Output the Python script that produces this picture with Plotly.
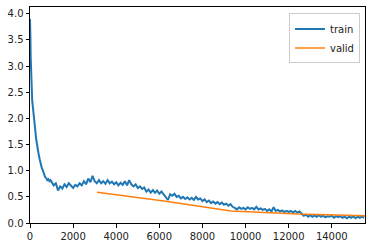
import plotly.graph_objects as go

# ---- data ----
train_iters_early = [0, 10, 20, 30, 40, 60, 80, 100, 130, 160, 200, 240, 280, 320, 360,
                     400, 450, 500, 550, 600, 650, 700, 750, 800, 850, 900, 950]
train_loss_early = [3.90, 3.82, 3.55, 3.20, 2.90, 2.80, 2.60, 2.35, 2.25, 2.10, 1.92, 1.80,
                    1.62, 1.50, 1.40, 1.32, 1.22, 1.12, 1.05, 1.00, 0.93, 0.88, 0.86, 0.82,
                    0.84, 0.80, 0.82]

train_loss_late = [
    0.78, 0.72, 0.76, 0.62, 0.70, 0.66, 0.74, 0.69, 0.76, 0.72,   # 1000-1900
    0.67, 0.73, 0.70, 0.76, 0.72, 0.80, 0.74, 0.85, 0.78, 0.90,   # 2000-2900
    0.80, 0.76, 0.82, 0.76, 0.80, 0.75, 0.82, 0.76, 0.79, 0.74,   # 3000-3900
    0.78, 0.72, 0.77, 0.73, 0.80, 0.72, 0.82, 0.74, 0.70, 0.74,   # 4000-4900
    0.67, 0.70, 0.65, 0.68, 0.60, 0.64, 0.58, 0.63, 0.58, 0.62,   # 5000-5900
    0.56, 0.60, 0.54, 0.50, 0.44, 0.55, 0.52, 0.56, 0.50, 0.52,   # 6000-6900
    0.47, 0.50, 0.46, 0.49, 0.45, 0.48, 0.44, 0.50, 0.45, 0.47,   # 7000-7900
    0.42, 0.45, 0.40, 0.43, 0.38, 0.41, 0.37, 0.40, 0.36, 0.39,   # 8000-8900
    0.35, 0.37, 0.33, 0.36, 0.31, 0.29, 0.26, 0.30, 0.27, 0.29,   # 9000-9900
    0.26, 0.30, 0.27, 0.29, 0.26, 0.31, 0.26, 0.28, 0.25, 0.27,   # 10000-10900
    0.23, 0.26, 0.22, 0.30, 0.23, 0.25, 0.22, 0.24, 0.21, 0.23,   # 11000-11900
    0.21, 0.23, 0.20, 0.23, 0.20, 0.22, 0.18, 0.14, 0.16, 0.12,   # 12000-12900
    0.15, 0.12, 0.14, 0.12, 0.15, 0.12, 0.14, 0.11, 0.13, 0.12,   # 13000-13900
    0.14, 0.10, 0.13, 0.11, 0.13, 0.10, 0.12, 0.09, 0.12, 0.10,   # 14000-14900
    0.13, 0.09, 0.12, 0.10, 0.12, 0.10,                           # 15000-15500
]
train_iters_late = list(range(1000, 1000 + 100 * len(train_loss_late), 100))

train_iters = train_iters_early + train_iters_late
train_loss = train_loss_early + train_loss_late

valid_iters = [3108, 6216, 9324, 12432, 15540]
valid_loss = [0.59, 0.42, 0.23, 0.17, 0.14]

x_ticks = [0, 2000, 4000, 6000, 8000, 10000, 12000, 14000]
y_ticks = [0.0, 0.5, 1.0, 1.5, 2.0, 2.5, 3.0, 3.5, 4.0]

fig = go.Figure()
fig.add_trace(go.Scatter(x=train_iters, y=train_loss, mode="lines", name="train",
                         line=dict(color="#1f77b4", width=2)))
fig.add_trace(go.Scatter(x=valid_iters, y=valid_loss, mode="lines", name="valid",
                         line=dict(color="#ff7f0e", width=1.5)))

axis_common = dict(showline=True, linecolor="black", linewidth=1, mirror=True,
                   ticks="outside", ticklen=3.5, tickwidth=1, tickcolor="black",
                   showgrid=False, zeroline=False,
                   tickfont=dict(family="DejaVu Sans", size=10, color="#222"))

fig.update_xaxes(range=[0, 15540], tickvals=x_ticks, ticktext=[str(v) for v in x_ticks],
                 **axis_common)
fig.update_yaxes(range=[0, 4.13], tickvals=y_ticks, ticktext=[f"{v:.1f}" for v in y_ticks],
                 **axis_common)

fig.update_layout(
    width=372, height=248,
    margin=dict(l=30, r=7, t=6, b=24),
    paper_bgcolor="white", plot_bgcolor="white",
    font=dict(family="DejaVu Sans", size=10, color="#222"),
    legend=dict(x=0.985, y=0.97, xanchor="right", yanchor="top",
                bordercolor="#cccccc", borderwidth=1, bgcolor="rgba(255,255,255,0.8)",
                font=dict(size=10), itemwidth=30, tracegroupgap=0),
    showlegend=True,
)

fig.write_html("out.html")
